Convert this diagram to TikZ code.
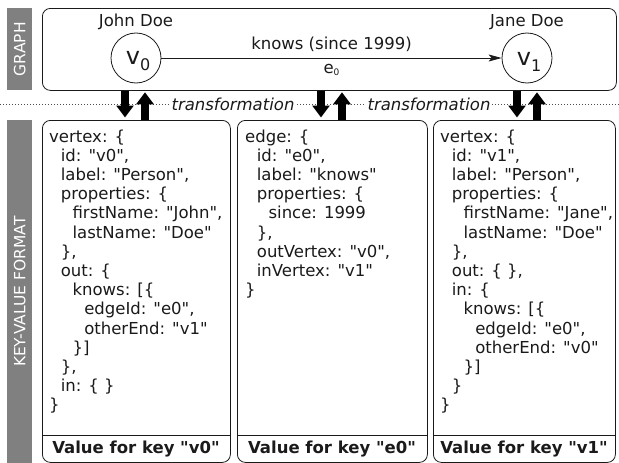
\documentclass[tikz,border=0pt]{standalone}
\usepackage{fontspec}
\setmainfont{DejaVu Sans}
\usetikzlibrary{arrows.meta}
\definecolor{barcol}{HTML}{808080}
\definecolor{ink}{HTML}{1A1A1A}
\newcommand\qq{\textquotedbl}
\begin{document}
\begin{tikzpicture}[x=1pt,y=-1pt,
  sidebar/.style={fill=barcol,draw=none,inner sep=0,anchor=north west},
  sidetext/.style={rotate=90,text=white,font=\fontsize{15.5}{18}\selectfont},
  frame/.style={draw=ink,line width=0.8pt,rounded corners=8pt,inner sep=0,anchor=north west},
  vert/.style={circle,draw=ink,line width=0.8pt,minimum size=50pt,inner sep=0},
  vlab/.style={inner sep=0,text=ink},
  plain/.style={text=ink,font=\fontsize{16.5}{19}\selectfont,inner sep=0},
  kvtext/.style={text=ink,font=\fontsize{16.5}{19}\selectfont,inner sep=0,anchor=base west},
  kvbold/.style={text=ink,font=\fontsize{16.5}{19}\selectfont\bfseries,inner sep=0},
  trans/.style={text=ink,fill=white,font=\fontsize{16.5}{19}\selectfont\itshape,inner xsep=2pt,inner ysep=1pt},
  edgeline/.style={draw=ink,line width=0.8pt,-{Stealth[length=13pt,width=7pt,inset=3pt]}},
  bigarrow/.style={draw=black,line width=8pt,-{Triangle[width=17pt,length=12pt]}},
  sepline/.style={draw=ink,line width=0.8pt},
  dotline/.style={draw=black!70,line width=0.8pt,dash pattern=on 1pt off 2pt}
]
\useasboundingbox (0,0) rectangle (619,463);

% side bars
\node[sidebar,minimum width=25pt,minimum height=82pt] (gbar) at (7,8) {};
\node[sidetext] (gbart) at (gbar.center) {GRAPH};
\node[sidebar,minimum width=25pt,minimum height=343pt] (kbar) at (7,120) {};
\node[sidetext] (kbart) at (kbar.center) {KEY-VALUE FORMAT};

% graph frame
\node[frame,minimum width=574pt,minimum height=82pt] (graph) at (42,8) {};
\node[vert] (v0) at (136,58) {};
\node[vert] (v1) at (527,58) {};
\node[vlab] (v0t) at ([xshift=2pt,yshift=-3.5pt]v0.center)
  {{\fontsize{24}{24}\selectfont v}{\fontsize{16}{16}\selectfont\raisebox{-6pt}{0}}};
\node[vlab] (v1t) at ([xshift=2pt,yshift=-3.5pt]v1.center)
  {{\fontsize{24}{24}\selectfont v}{\fontsize{16}{16}\selectfont\raisebox{-6pt}{1}}};
\node[plain] (jd) at (136,22) {John Doe};
\node[plain] (jn) at (527,22) {Jane Doe};
\draw[edgeline] (v0) -- (v1)
  node[plain,midway,above=6pt] (elab) {knows (since 1999)}
  node[plain,midway,below=6pt] (ename) {e{\fontsize{9}{9}\selectfont\raisebox{-2pt}{0}}};

% dotted separator
\coordinate (dl) at (0,104.5);
\coordinate (dr) at (619,104.5);
\draw[dotline] (dl) -- (dr);
\node[trans] (t1) at (233,104) {transformation};
\node[trans] (t2) at (429,104) {transformation};

% key-value boxes
\node[frame,minimum width=188pt,minimum height=342pt] (kv1) at (42,120) {};
\node[frame,minimum width=190pt,minimum height=342pt] (kv2) at (237,120) {};
\node[frame,minimum width=182pt,minimum height=342pt] (kv3) at (433,120) {};
\coordinate (s1) at (0,435);
\draw[sepline] (kv1.west |- s1) -- (kv1.east |- s1);
\draw[sepline] (kv2.west |- s1) -- (kv2.east |- s1);
\draw[sepline] (kv3.west |- s1) -- (kv3.east |- s1);
\node[kvbold] (f1) at (136,449) {Value for key \qq v0\qq};
\node[kvbold] (f2) at (332,449) {Value for key \qq e0\qq};
\node[kvbold] (f3) at (524,449) {Value for key \qq v1\qq};

% big arrows
\coordinate (a1) at (125,0);
\coordinate (a2) at (145,0);
\coordinate (a3) at (321,0);
\coordinate (a4) at (342,0);
\coordinate (a5) at (517,0);
\coordinate (a6) at (537,0);
\draw[bigarrow] (graph.south -| a1) -- ([yshift=2.5pt]kv1.north -| a1);
\draw[bigarrow] (kv1.north -| a2) -- ([yshift=-1.5pt]graph.south -| a2);
\draw[bigarrow] (graph.south -| a3) -- ([yshift=2.5pt]kv2.north -| a3);
\draw[bigarrow] (kv2.north -| a4) -- ([yshift=-1.5pt]graph.south -| a4);
\draw[bigarrow] (graph.south -| a5) -- ([yshift=2.5pt]kv3.north -| a5);
\draw[bigarrow] (kv3.north -| a6) -- ([yshift=-1.5pt]graph.south -| a6);

% box texts
\foreach[count=\i from 0] \ind/\txt in {
  0/{vertex: \{},
  1/{id: \qq v0\qq,},
  1/{label: \qq Person\qq,},
  1/{properties: \{},
  2/{firstName: \qq John\qq,},
  2/{lastName: \qq Doe\qq},
  1/{\},},
  1/{out: \{},
  2/{knows: [\{},
  3/{edgeId: \qq e0\qq,},
  3/{otherEnd: \qq v1\qq},
  2/{\}]},
  1/{\},},
  1/{in: \{ \}},
  0/{\}}}
  \node[kvtext] (ta\i) at (49+\ind*11.7,142+\i*19.2) {\txt};

\foreach[count=\i from 0] \ind/\txt in {
  0/{edge: \{},
  1/{id: \qq e0\qq,},
  1/{label: \qq knows\qq},
  1/{properties: \{},
  2/{since: 1999},
  1/{\},},
  1/{outVertex: \qq v0\qq,},
  1/{inVertex: \qq v1\qq},
  0/{\}}}
  \node[kvtext] (tb\i) at (245+\ind*11.7,142+\i*19.2) {\txt};

\foreach[count=\i from 0] \ind/\txt in {
  0/{vertex: \{},
  1/{id: \qq v1\qq,},
  1/{label: \qq Person\qq,},
  1/{properties: \{},
  2/{firstName: \qq Jane\qq,},
  2/{lastName: \qq Doe\qq},
  1/{\},},
  1/{out: \{ \},},
  1/{in: \{},
  2/{knows: [\{},
  3/{edgeId: \qq e0\qq,},
  3/{otherEnd: \qq v0\qq},
  2/{\}]},
  1/{\}},
  0/{\}}}
  \node[kvtext] (tc\i) at (440+\ind*11.7,142+\i*19.2) {\txt};
\end{tikzpicture}
\end{document}
